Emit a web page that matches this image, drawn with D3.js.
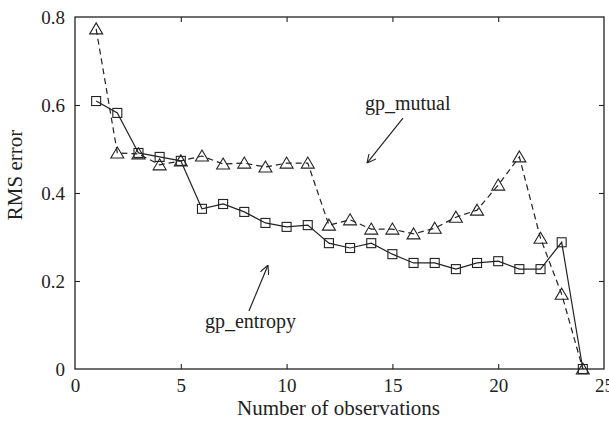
<!DOCTYPE html>
<meta charset="utf-8">
<script src="https://d3js.org/d3.v7.min.js"></script>
<style>
  body { margin: 0; background: #fff; }
  svg text { font-family: "Liberation Serif", "Times New Roman", "DejaVu Serif", serif; fill: #222; }
</style>
<div id="chart"></div>
<script>

    var serif = "'Liberation Serif', 'Times New Roman', 'DejaVu Serif', serif";

    // observations 1..24
    var observations = d3.range(1, 25);

    var gpMutual = [0.773, 0.491, 0.489, 0.464, 0.473, 0.484, 0.466, 0.468, 0.459, 0.468,
                    0.468, 0.327, 0.339, 0.318, 0.318, 0.307, 0.320, 0.345, 0.361, 0.418,
                    0.482, 0.297, 0.170, 0.0];

    var gpEntropy = [0.609, 0.582, 0.491, 0.482, 0.473, 0.364, 0.375, 0.357, 0.332, 0.323,
                     0.327, 0.286, 0.275, 0.286, 0.261, 0.241, 0.241, 0.227, 0.241, 0.245,
                     0.227, 0.227, 0.288, 0.0];

    var xTicks = [0, 5, 10, 15, 20, 25];
    var yTicks = [0, 0.2, 0.4, 0.6, 0.8];

    var margin = {top: 17, right: 5, bottom: 59, left: 75},
        width = 609 - margin.left - margin.right,
        height = 428 - margin.top - margin.bottom;

    var svg = d3.select("#chart")
      .append("svg")
        .attr("width", 609)
        .attr("height", 428)
        .attr("font-family", serif)
      .append("g")
        .attr("transform", "translate(" + margin.left + "," + margin.top + ")");

    var x = d3.scaleLinear().domain([0, 25]).range([0, width]);
    var y = d3.scaleLinear().domain([0, 0.8]).range([height, 0]);

    // arrow head
    svg.append("defs").append("marker")
        .attr("id", "arrow")
        .attr("viewBox", "0 0 10 10")
        .attr("refX", 10).attr("refY", 5)
        .attr("markerWidth", 9).attr("markerHeight", 9)
        .attr("markerUnits", "userSpaceOnUse")
        .attr("orient", "auto")
      .append("path")
        .attr("d", "M0,0 L10,5 L0,10")
        .attr("fill", "none")
        .attr("stroke", "#222")
        .attr("stroke-width", 1.2);

    // axes: bottom and left with labels, top and right mirror ticks
    var tickStyle = function(g) {
      g.attr("font-family", serif);
      g.select(".domain").remove();
      g.selectAll("line").attr("stroke", "#222").attr("stroke-width", 1.1);
      g.selectAll("text").attr("font-size", "19px").attr("fill", "#222")
        .attr("font-family", serif);
    };

    svg.append("g")
        .attr("transform", "translate(0," + height + ")")
        .call(d3.axisBottom(x).tickValues(xTicks).tickSize(-5).tickPadding(10).tickFormat(d3.format("d")))
        .call(tickStyle)
        .call(function(g) { g.selectAll(".tick").filter(function(d) { return d == 0 || d == 25; }).select("line").remove(); });

    svg.append("g")
        .call(d3.axisLeft(y).tickValues(yTicks).tickSize(-5).tickPadding(10).tickFormat(function(d) { return d == 0 ? "0" : d3.format(".1f")(d); }))
        .call(tickStyle)
        .call(function(g) { g.selectAll(".tick").filter(function(d) { return d == 0 || d == 0.8; }).select("line").remove(); });

    svg.append("g")
        .call(d3.axisTop(x).tickValues(xTicks.slice(1, -1)).tickSize(-5).tickFormat(""))
        .call(tickStyle);

    svg.append("g")
        .attr("transform", "translate(" + width + ",0)")
        .call(d3.axisRight(y).tickValues(yTicks.slice(1, -1)).tickSize(-5).tickFormat(""))
        .call(tickStyle);

    // frame
    svg.append("rect")
        .attr("width", width).attr("height", height)
        .attr("fill", "none")
        .attr("stroke", "#222")
        .attr("stroke-width", 1.3);

    // axis titles
    svg.append("text")
        .attr("x", width / 2 - 1)
        .attr("y", height + 46)
        .attr("text-anchor", "middle")
        .attr("font-size", "21px")
        .attr("font-family", serif)
        .text("Number of observations");

    svg.append("text")
        .attr("transform", "translate(-53," + (height / 2 - 18) + ") rotate(-90)")
        .attr("text-anchor", "middle")
        .attr("font-size", "21px")
        .attr("font-family", serif)
        .text("RMS error");

    var line = d3.line()
        .x(function(d, i) { return x(observations[i]); })
        .y(function(d) { return y(d); });

    // gp_mutual: dashed with triangles
    svg.append("path")
        .datum(gpMutual)
        .attr("d", line)
        .attr("fill", "none")
        .attr("stroke", "#222")
        .attr("stroke-width", 1.2)
        .attr("stroke-dasharray", "6,4");

    svg.append("g")
      .selectAll("path")
      .data(gpMutual)
      .enter()
      .append("path")
        .attr("transform", function(d, i) { return "translate(" + x(observations[i]) + "," + y(d) + ")"; })
        .attr("d", "M0,-6 L6.5,5 L-6.5,5 Z")
        .attr("fill", "none")
        .attr("stroke", "#222")
        .attr("stroke-width", 1.1);

    // gp_entropy: solid with squares
    svg.append("path")
        .datum(gpEntropy)
        .attr("d", line)
        .attr("fill", "none")
        .attr("stroke", "#222")
        .attr("stroke-width", 1.2);

    svg.append("g")
      .selectAll("rect")
      .data(gpEntropy)
      .enter()
      .append("rect")
        .attr("x", function(d, i) { return x(observations[i]) - 4.5; })
        .attr("y", function(d) { return y(d) - 4.5; })
        .attr("width", 9)
        .attr("height", 9)
        .attr("fill", "none")
        .attr("stroke", "#222")
        .attr("stroke-width", 1.1);

    // annotations
    var notes = [
      {label: "gp_mutual", tx: 13.7, ty: 0.589, x1: 15.5, y1: 0.570, x2: 13.8, y2: 0.468},
      {label: "gp_entropy", tx: 6.14, ty: 0.093, x1: 8.22, y1: 0.132, x2: 9.12, y2: 0.236}
    ];

    notes.forEach(function(n) {
      svg.append("text")
          .attr("x", x(n.tx))
          .attr("y", y(n.ty))
          .attr("font-size", "20px")
          .attr("font-family", serif)
          .text(n.label);
      svg.append("line")
          .attr("x1", x(n.x1)).attr("y1", y(n.y1))
          .attr("x2", x(n.x2)).attr("y2", y(n.y2))
          .attr("stroke", "#222")
          .attr("stroke-width", 1.2)
          .attr("marker-end", "url(#arrow)");
    });

</script>
